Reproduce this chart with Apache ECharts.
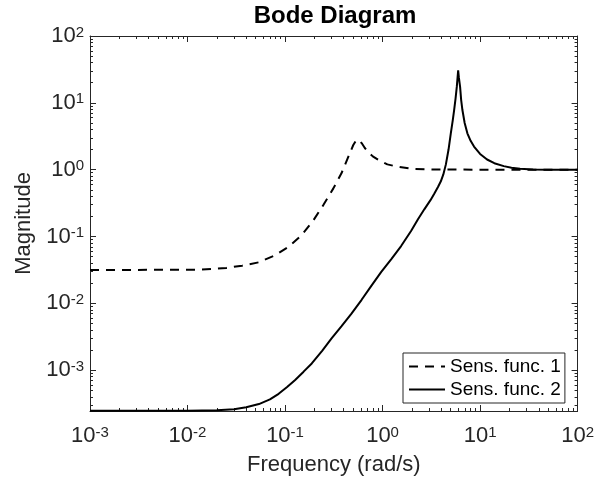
<!DOCTYPE html>
<html>
<head>
<meta charset="utf-8">
<script src="https://cdn.jsdelivr.net/npm/echarts@6/dist/echarts.min.js"></script>
<style>
  html, body { margin: 0; padding: 0; background: #fff; }
  #chart { width: 597px; height: 481px; }
</style>
</head>
<body>
<div id="chart"></div>
<script>
// frequencies (rad/s) and magnitudes
const freq1 = [0.001, 0.005, 0.0132, 0.0251, 0.0363, 0.0537, 0.0794, 0.1096, 0.148, 0.195, 0.247, 0.313, 0.38, 0.445, 0.501, 0.54, 0.575, 0.617, 0.658, 0.708, 0.794, 0.898, 1.12, 1.38, 2.0, 3.16, 10, 100];
const mag1 = [0.0316, 0.0317, 0.0319, 0.0339, 0.0366, 0.0411, 0.0525, 0.0708, 0.1047, 0.174, 0.295, 0.525, 0.891, 1.55, 2.34, 2.79, 2.75, 2.45, 2.11, 1.86, 1.58, 1.41, 1.2, 1.12, 1.028, 1.007, 1.0, 1.0];

const freq2 = [0.001, 0.01, 0.02, 0.03, 0.04, 0.054, 0.07, 0.086, 0.105, 0.127, 0.155, 0.188, 0.24, 0.3, 0.38, 0.48, 0.61, 0.77, 0.97, 1.23, 1.55, 1.96, 2.3, 2.68, 3.1, 3.4, 3.7, 3.96, 4.2, 4.46, 4.75, 5.01, 5.25, 5.42, 5.6, 5.77, 5.88, 5.96, 6.06, 6.24, 6.4, 6.59, 6.95, 7.41, 8.0, 8.67, 10, 11.8, 14, 17.5, 21, 25.7, 35, 50, 100];
const mag2 = [2.48e-4, 2.48e-4, 2.52e-4, 2.6e-4, 2.78e-4, 3.11e-4, 3.65e-4, 4.43e-4, 5.6e-4, 7.15e-4, 9.5e-4, 1.26e-3, 1.95e-3, 2.98e-3, 4.55e-3, 7.0e-3, 0.0113, 0.0184, 0.0295, 0.046, 0.072, 0.121, 0.18, 0.255, 0.35, 0.44, 0.55, 0.67, 0.85, 1.2, 2.0, 3.5, 5.5, 7.8, 11.5, 17.3, 24, 30.6, 24, 17.3, 11, 7.8, 5.0, 3.5, 2.7, 2.22, 1.72, 1.42, 1.25, 1.13, 1.07, 1.03, 1.01, 1.0, 1.0];

const seriesNames = ['Sens. func. 1', 'Sens. func. 2'];

// tick positions
const xMajor = [1e-3, 1e-2, 1e-1, 1e0, 1e1, 1e2];
const yMajor = [1e-3, 1e-2, 1e-1, 1e0, 1e1, 1e2];
const xMin = 1e-3, xMax = 1e2;
const yMin = 2.45e-4, yMax = 1e2;

function minorTicks(lo, hi) {
  const out = [];
  for (let d = -5; d <= 3; d++) {
    for (let k = 2; k <= 9; k++) {
      const v = k * Math.pow(10, d);
      if (v > lo && v < hi) out.push(v);
    }
  }
  return out;
}
const xMinor = minorTicks(xMin, xMax);
const yMinor = minorTicks(yMin, yMax);

const axisColor = '#262626';
const font = 'Liberation Sans, Arial, Helvetica, sans-serif';

function powLabel(v) {
  const e = Math.round(Math.log10(v));
  return '{b|10}{s|' + e + '}';
}
const labelRich = {
  b: { fontSize: 22, lineHeight: 22, padding: [6, 0, 0, 0], verticalAlign: 'bottom', color: axisColor, fontFamily: font },
  s: { fontSize: 15, lineHeight: 15, verticalAlign: 'top', color: axisColor, fontFamily: font }
};

function makeAxis(opts) {
  const base = {
    type: 'log',
    logBase: 10,
    gridIndex: 0,
    splitLine: { show: false },
    minorTick: { show: false },
    axisLine: { show: false, lineStyle: { color: axisColor, width: 1 } },
    axisTick: { show: true, inside: true, length: 6, lineStyle: { color: axisColor, width: 1 } },
    axisLabel: { show: false }
  };
  return Object.assign(base, opts);
}

const xAxes = [
  makeAxis({
    position: 'bottom', min: xMin, max: xMax,
    axisLine: { show: true, onZero: false, lineStyle: { color: axisColor, width: 1 } },
    axisTick: { show: true, inside: true, length: 6, customValues: xMajor, lineStyle: { color: axisColor } },
    axisLabel: { show: true, customValues: xMajor, margin: 14, formatter: powLabel, rich: labelRich },
    name: 'Frequency (rad/s)', nameLocation: 'middle', nameGap: 43,
    nameTextStyle: { fontSize: 22, color: axisColor, fontFamily: font }
  }),
  makeAxis({ position: 'bottom', min: xMin, max: xMax,
    axisTick: { show: true, inside: true, length: 3, customValues: xMinor, lineStyle: { color: axisColor } } }),
  makeAxis({ position: 'top', min: xMin, max: xMax,
    axisLine: { show: true, onZero: false, lineStyle: { color: axisColor, width: 1 } },
    axisTick: { show: true, inside: true, length: 6, customValues: xMajor, lineStyle: { color: axisColor } } }),
  makeAxis({ position: 'top', min: xMin, max: xMax,
    axisTick: { show: true, inside: true, length: 3, customValues: xMinor, lineStyle: { color: axisColor } } })
];

const yAxes = [
  makeAxis({
    position: 'left', min: yMin, max: yMax,
    axisLine: { show: true, onZero: false, lineStyle: { color: axisColor, width: 1 } },
    axisTick: { show: true, inside: true, length: 6, customValues: yMajor, lineStyle: { color: axisColor } },
    axisLabel: { show: true, customValues: yMajor, margin: 6, formatter: powLabel, rich: labelRich },
    name: 'Magnitude', nameLocation: 'middle', nameGap: 52, nameRotate: 90,
    nameTextStyle: { fontSize: 22, color: axisColor, fontFamily: font }
  }),
  makeAxis({ position: 'left', min: yMin, max: yMax,
    axisTick: { show: true, inside: true, length: 3, customValues: yMinor, lineStyle: { color: axisColor } } }),
  makeAxis({ position: 'right', min: yMin, max: yMax,
    axisLine: { show: true, onZero: false, lineStyle: { color: axisColor, width: 1 } },
    axisTick: { show: true, inside: true, length: 6, customValues: yMajor, lineStyle: { color: axisColor } } }),
  makeAxis({ position: 'right', min: yMin, max: yMax,
    axisTick: { show: true, inside: true, length: 3, customValues: yMinor, lineStyle: { color: axisColor } } })
];

const chart = echarts.init(document.getElementById('chart'), null, { renderer: 'canvas' });

const option = {
  animation: false,
  backgroundColor: '#fff',
  title: {
    text: 'Bode Diagram',
    left: 335,
    top: 4,
    padding: 0,
    textAlign: 'center',
    textStyle: { fontSize: 24, fontWeight: 'bold', color: '#000', fontFamily: font }
  },
  grid: { left: 90, right: 16, top: 36, bottom: 68, containLabel: false },
  legend: {
    data: seriesNames,
    orient: 'vertical',
    left: 403,
    top: 353,
    padding: [3, 4, 3, 5],
    itemGap: 2,
    itemWidth: 36,
    itemHeight: 14,
    itemStyle: { opacity: 0 },
    backgroundColor: '#fff',
    borderColor: axisColor,
    borderWidth: 1,
    borderRadius: 0,
    textStyle: { fontSize: 19, lineHeight: 21, color: '#000', fontFamily: font }
  },
  xAxis: xAxes,
  yAxis: yAxes,
  series: [
    {
      name: seriesNames[0],
      type: 'line',
      symbol: 'none',
      xAxisIndex: 0, yAxisIndex: 0,
      lineStyle: { color: '#000', width: 2, type: [9, 7] },
      itemStyle: { color: '#000' },
      data: freq1.map((f, i) => [f, mag1[i]])
    },
    {
      name: seriesNames[1],
      type: 'line',
      symbol: 'none',
      xAxisIndex: 0, yAxisIndex: 0,
      lineStyle: { color: '#000', width: 2, type: 'solid' },
      itemStyle: { color: '#000' },
      data: freq2.map((f, i) => [f, mag2[i]])
    }
  ]
};

chart.setOption(option);
</script>
</body>
</html>
